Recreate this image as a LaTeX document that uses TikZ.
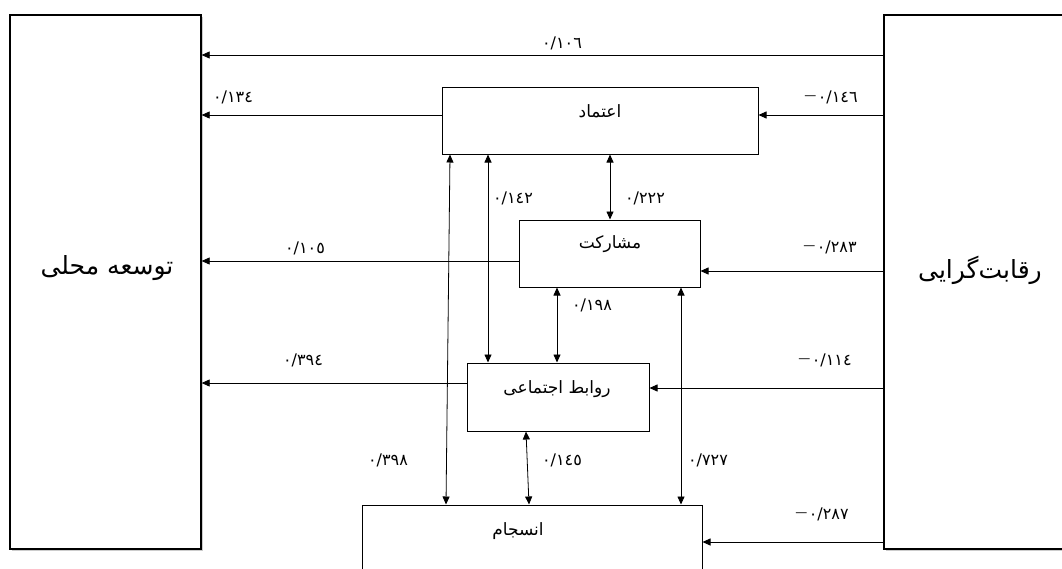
\documentclass[tikz,border=0pt]{standalone}
\usepackage{fontspec}
\newfontfamily\arabicfont[Script=Arabic]{DejaVu Sans}
\TeXXeTstate=1
\usetikzlibrary{arrows.meta,shadows}
\newcommand{\negcoef}[1]{\raisebox{2.5pt}{\fontsize{12}{14}\selectfont —}\kern1.5pt\hbox{#1}}
\begin{document}
\begin{tikzpicture}[x=1pt,y=-1pt,
  box/.style={draw, rectangle, line width=1pt, inner sep=0pt},
  bigbox/.style={box, line width=1.3pt, fill=white, drop shadow={shadow xshift=1.5pt, shadow yshift=-1.5pt, fill=black!50, opacity=0.4}},
  tip/.tip={Triangle[length=8pt,width=7pt]},
  arr/.style={line width=0.8pt, -tip},
  darr/.style={line width=0.8pt, tip-tip},
  num/.style={font=\arabicfont\fontsize{16}{18}\selectfont, inner sep=0pt},
  lbl/.style={font=\arabicfont\fontsize{17}{20}\selectfont, inner sep=0pt},
  big/.style={font=\arabicfont\fontsize{25}{30}\selectfont, inner sep=0pt}]
\useasboundingbox (0,0) rectangle (1062,568);
\fill[white] (0,0) rectangle (1062,568);
% big boxes
\node[bigbox, minimum width=191pt, minimum height=534pt] (L) at (105.5,282) {};
\node[big] (Lt) at (107,268) {\beginR توسعه محلی\endR};
\node[bigbox, minimum width=200pt, minimum height=534pt] (R) at (984,282) {};
\node[big] (Rt) at (980,270) {رقابت‌گرایی};
% inner boxes
\node[box, minimum width=316pt, minimum height=67pt] (E) at (600,120.5) {};
\node[lbl] (Et) at (600,111) {اعتماد};
\node[box, minimum width=181pt, minimum height=67pt] (M) at (609.5,253.5) {};
\node[lbl] (Mt) at (610,244) {مشارکت};
\node[box, minimum width=182pt, minimum height=68pt] (S) at (558,397) {};
\node[lbl] (St) at (557,389) {\beginR روابط اجتماعی\endR};
\node[box, minimum width=340pt, minimum height=120pt, fill=white] (N) at (532,565) {};
\node[lbl] (Nt) at (518,531) {انسجام};
% horizontal arrows to the left box
\draw[arr] (R.west |- 0,55) -- (L.east |- 0,55);
\draw[arr] (E.west |- 0,115) -- (L.east |- 0,115);
\draw[arr] (M.west |- 0,261) -- (L.east |- 0,261);
\draw[arr] (S.west |- 0,383) -- (L.east |- 0,383);
% arrows from the right box
\draw[arr] (R.west |- 0,115) -- (E.east |- 0,115);
\draw[arr] (R.west |- 0,271) -- (M.east |- 0,271);
\draw[arr] (R.west |- 0,388) -- (S.east |- 0,388);
\draw[arr] (R.west |- 0,542) -- (N.east |- 0,542);
% vertical double arrows
\draw[darr] (E.south -| 450,0) -- (N.north -| 446,0);
\draw[darr] (E.south -| 488,0) -- (S.north -| 488,0);
\draw[darr] (E.south -| 610,0) -- (M.north -| 610,0);
\draw[darr] (M.south -| 557,0) -- (S.north -| 557,0);
\draw[darr] (S.south -| 526,0) -- (N.north -| 529,0);
\draw[darr] (M.south -| 681,0) -- (N.north -| 681,0);
% coefficients
\node[num] (n1) at (562,43) {٠/١٠٦};
\node[num] (n2) at (233,97) {٠/١٣٤};
\node[num] (n3) at (831,97) {\negcoef{٠/١٤٦}};
\node[num] (n4) at (513,198) {٠/١٤٢};
\node[num] (n5) at (645,198) {٠/٢٢٢};
\node[num] (n6) at (305,248) {٠/١٠٥};
\node[num] (n7) at (830,247) {\negcoef{٠/٢٨٣}};
\node[num] (n8) at (592,305) {٠/١٩٨};
\node[num] (n9) at (303,360) {٠/٣٩٤};
\node[num] (n10) at (825,360) {\negcoef{٠/١١٤}};
\node[num] (n11) at (388,460) {٠/٣٩٨};
\node[num] (n12) at (562,460) {٠/١٤٥};
\node[num] (n13) at (708,460) {٠/٧٢٧};
\node[num] (n14) at (822,514) {\negcoef{٠/٢٨٧}};
\end{tikzpicture}
\end{document}
